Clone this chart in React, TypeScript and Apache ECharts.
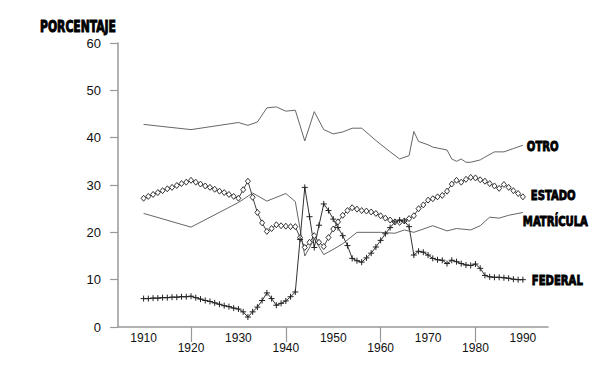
import React, { useEffect, useRef } from "react";
import * as echarts from "echarts";

const YEARS = [
  1910, 1911, 1912, 1913, 1914, 1915, 1916, 1917, 1918, 1919, 1920,
  1921, 1922, 1923, 1924, 1925, 1926, 1927, 1928, 1929, 1930,
  1931, 1932, 1933, 1934, 1935, 1936, 1937, 1938, 1939, 1940,
  1941, 1942, 1943, 1944, 1945, 1946, 1947, 1948, 1949, 1950,
  1951, 1952, 1953, 1954, 1955, 1956, 1957, 1958, 1959, 1960,
  1961, 1962, 1963, 1964, 1965, 1966, 1967, 1968, 1969, 1970,
  1971, 1972, 1973, 1974, 1975, 1976, 1977, 1978, 1979, 1980,
  1981, 1982, 1983, 1984, 1985, 1986, 1987, 1988, 1989, 1990,
];

const FEDERAL = [
  6.0, 6.0, 6.1, 6.1, 6.2, 6.2, 6.3, 6.3, 6.4, 6.4, 6.5,
  6.2, 5.9, 5.6, 5.4, 5.1, 4.8, 4.5, 4.3, 4.0, 3.8,
  3.2, 2.1, 3.2, 4.2, 5.6, 7.2, 6.0, 4.6, 5.0, 5.5,
  6.4, 7.4, 18.5, 29.5, 23.3, 16.8, 21.5, 26.0, 24.6, 22.8,
  21.0, 19.3, 17.2, 14.5, 14.0, 13.7, 14.6, 15.6, 16.9, 18.3,
  19.7, 21.0, 22.2, 22.6, 22.4, 21.2, 15.2, 16.0, 15.8, 15.2,
  14.5, 14.2, 14.1, 13.4, 14.1, 13.8, 13.4, 13.1, 13.0, 13.3,
  12.4, 10.9, 10.6, 10.5, 10.5, 10.4, 10.3, 10.1, 10.0, 10.0,
];

const ESTADO = [
  27.2, 27.6, 28.0, 28.4, 28.8, 29.2, 29.5, 29.9, 30.3, 30.6, 31.0,
  30.6, 30.2, 29.8, 29.5, 29.1, 28.7, 28.4, 28.0, 27.6, 27.2,
  29.0, 30.8, 27.4, 24.2, 22.0, 20.2, 20.8, 21.6, 21.4, 21.3,
  21.2, 21.2, 18.9, 16.8, 17.9, 19.3, 17.9, 17.0, 18.9, 20.7,
  22.2, 23.6, 24.6, 25.2, 24.9, 24.6, 24.5, 24.3, 24.0, 23.5,
  23.0, 22.6, 22.2, 22.1, 22.4, 22.9, 23.5, 25.0, 25.8, 26.8,
  27.1, 27.5, 27.8, 28.7, 30.2, 31.0, 30.6, 31.2, 31.6, 31.5,
  31.1, 30.8, 30.3, 29.8, 29.3, 30.1, 29.5, 28.8, 28.2, 27.5,
];

const OTRO_YEARS = [
  1910, 1920, 1930, 1932, 1934, 1936, 1938, 1940, 1942, 1944, 1946, 1948,
  1950, 1952, 1954, 1956, 1959, 1962, 1964, 1966, 1967, 1968, 1970, 1971,
  1974, 1975, 1976, 1977, 1978, 1979, 1981, 1982, 1984, 1986, 1988, 1990,
];
const OTRO = [
  42.8, 41.7, 43.2, 42.6, 43.3, 46.3, 46.5, 45.6, 45.8, 39.3, 45.5, 41.7,
  40.8, 41.2, 42.0, 42.0, 39.4, 37.0, 35.5, 36.2, 41.3, 39.2, 38.5, 38.0,
  37.4, 35.5, 35.0, 35.5, 34.8, 34.8, 35.3, 35.9, 37.0, 37.0, 37.7, 38.4,
];

const MATRICULA_YEARS = [
  1910, 1920, 1930, 1933, 1936, 1940, 1942, 1944, 1946, 1948, 1950, 1952,
  1955, 1960, 1963, 1965, 1967, 1971, 1974, 1976, 1979, 1981, 1983, 1985,
  1987, 1990,
];
const MATRICULA = [
  24.0, 21.1, 26.3, 28.3, 26.6, 28.2, 26.5, 15.0, 18.6, 15.3, 16.4, 17.6,
  20.0, 20.0, 19.8, 20.5, 20.0, 21.4, 20.3, 20.8, 20.5, 21.4, 23.2, 23.0,
  23.6, 24.2,
];

const Y_TICKS = [0, 10, 20, 30, 40, 50, 60];
const X_UPPER = [1910, 1930, 1950, 1970, 1990];
const X_LOWER = [1920, 1940, 1960, 1980];

const LABEL_FONT = "'DejaVu Sans Condensed', 'DejaVu Sans', sans-serif";
const TICK_FONT = "'Liberation Sans', Arial, Helvetica, sans-serif";

function pairs(xs: number[], ys: number[]) {
  return xs.map((x, i) => [x, ys[i]]);
}

export default function App() {
  const ref = useRef<HTMLDivElement>(null);
  useEffect(() => {
    if (!ref.current) return;
    const chart = echarts.init(ref.current, null, { renderer: "svg" });
    const xMin = 1904.6;
    const xMax = 1995.3;
    chart.setOption({
      animation: false,
      backgroundColor: "#fff",
      grid: { left: 118, right: 54, top: 43, bottom: 51 },
      xAxis: [
        {
          type: "value",
          min: xMin,
          max: xMax,
          position: "bottom",
          axisLine: { show: true, lineStyle: { color: "#999", width: 1.5 } },
          axisTick: { show: false },
          splitLine: { show: false },
          axisLabel: {
            customValues: X_UPPER,
            margin: 5,
            color: "#111",
            fontSize: 12,
            fontFamily: TICK_FONT,
            formatter: (v: number) => String(v),
          },
        },
        {
          type: "value",
          min: xMin,
          max: xMax,
          position: "bottom",
          axisLine: { show: false },
          axisTick: {
            show: true,
            customValues: X_LOWER,
            length: 15,
            lineStyle: { color: "#999", width: 1.2 },
          },
          splitLine: { show: false },
          axisLabel: {
            customValues: X_LOWER,
            margin: 15,
            color: "#111",
            fontSize: 12,
            fontFamily: TICK_FONT,
            formatter: (v: number) => String(v),
          },
        },
      ],
      yAxis: {
        type: "value",
        min: 0,
        max: 60,
        interval: 10,
        axisLine: { show: true, lineStyle: { color: "#999", width: 1.5 } },
        axisTick: { show: true, length: 8, lineStyle: { color: "#999", width: 1.2 } },
        splitLine: { show: false },
        axisLabel: {
          customValues: Y_TICKS,
          margin: 17,
          color: "#111",
          fontSize: 13,
          fontFamily: TICK_FONT,
        },
      },
      series: [
        {
          name: "OTRO",
          type: "line",
          data: pairs(OTRO_YEARS, OTRO),
          showSymbol: false,
          symbol: "none",
          lineStyle: { color: "#666", width: 1 },
        },
        {
          name: "MATRÍCULA",
          type: "line",
          data: pairs(MATRICULA_YEARS, MATRICULA),
          showSymbol: false,
          symbol: "none",
          lineStyle: { color: "#666", width: 1 },
        },
        {
          name: "ESTADO",
          type: "line",
          data: pairs(YEARS, ESTADO),
          symbol: "diamond",
          symbolSize: [5, 6],
          showAllSymbol: true,
          itemStyle: { color: "#fff", borderColor: "#222", borderWidth: 0.9 },
          lineStyle: { color: "#444", width: 1 },
        },
        {
          name: "FEDERAL",
          type: "line",
          data: pairs(YEARS, FEDERAL),
          symbol: "path://M0,5L10,5M5,0L5,10",
          symbolSize: 6,
          showAllSymbol: true,
          itemStyle: { color: "none", borderColor: "#222", borderWidth: 1 },
          lineStyle: { color: "#333", width: 1 },
        },
      ],
    });

    // Series labels positioned from the library's own scales at each series' last point
    const labelDefs: { text: string; x: number; y: number; dx: number; dy: number }[] = [
      { text: "OTRO", x: OTRO_YEARS[OTRO_YEARS.length - 1], y: OTRO[OTRO.length - 1], dx: 4, dy: 1 },
      { text: "ESTADO", x: YEARS[YEARS.length - 1], y: ESTADO[ESTADO.length - 1], dx: 8, dy: -2 },
      { text: "MATRÍCULA", x: MATRICULA_YEARS[MATRICULA_YEARS.length - 1], y: MATRICULA[MATRICULA.length - 1], dx: 0, dy: 9 },
      { text: "FEDERAL", x: YEARS[YEARS.length - 1], y: FEDERAL[FEDERAL.length - 1], dx: 9, dy: 0 },
    ];
    const textStyle = {
      fontFamily: LABEL_FONT,
      fontWeight: "bold",
      fill: "#000",
      stroke: "#000",
      lineWidth: 0.9,
      textAlign: "left",
      textVerticalAlign: "middle",
    };
    const graphics: any[] = [
      {
        type: "text",
        x: 40,
        y: 26.5,
        scaleX: 0.8,
        style: { ...textStyle, text: "PORCENTAJE", fontSize: 15 },
      },
    ];
    labelDefs.forEach((d) => {
      const p = chart.convertToPixel({ xAxisIndex: 0, yAxisIndex: 0 }, [d.x, d.y]) as number[];
      graphics.push({
        type: "text",
        x: p[0] + d.dx,
        y: p[1] + d.dy,
        scaleX: 0.8,
        style: { ...textStyle, text: d.text, fontSize: 14 },
      });
    });
    chart.setOption({ graphic: graphics });
    return () => chart.dispose();
  }, []);
  return <div ref={ref} style={{ width: 602, height: 378, position: "absolute", left: 0, top: 0 }} />;
}
